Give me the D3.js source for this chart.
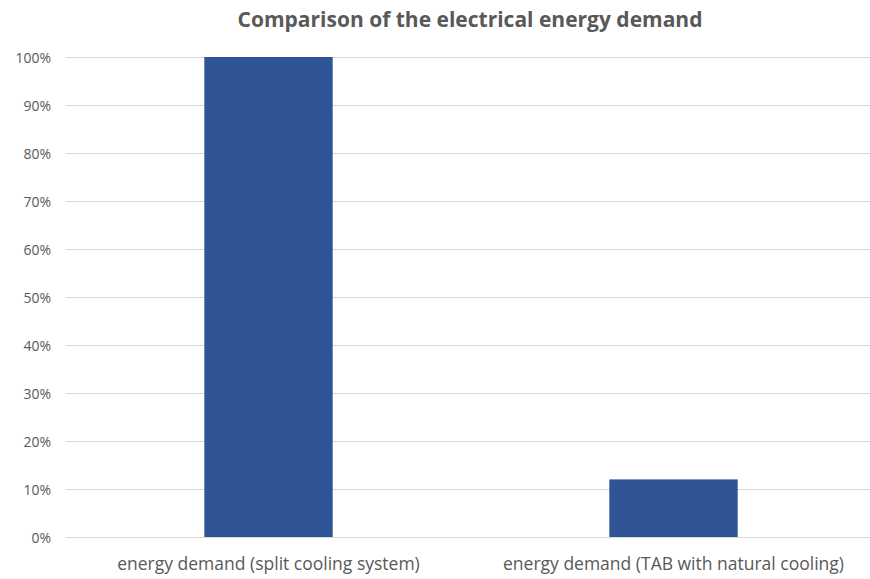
<!DOCTYPE html>
<html>
<head>
<meta charset="utf-8">
<script src="https://cdn.jsdelivr.net/npm/d3@7"></script>
<style>
  html, body { margin: 0; padding: 0; background: #fff; }
  svg { display: block; }
</style>
</head>
<body>
<svg id="chart" width="870" height="579"></svg>
<script>
// Electrical energy demand, relative to the split cooling system
const categories = [
  "energy demand (split cooling system)",
  "energy demand (TAB with natural cooling)"
];
const shares = [1.00, 0.12];
const tickValues = [0, 0.1, 0.2, 0.3, 0.4, 0.5, 0.6, 0.7, 0.8, 0.9, 1.0];
const chartTitle = "Comparison of the electrical energy demand";

const svg = d3.select("#chart");
const W = 870, H = 579;
const margin = { top: 57, right: -6, bottom: 42, left: 66 };

const x = d3.scaleBand()
  .domain(categories)
  .range([margin.left, W - margin.right])
  .paddingInner(0.683)
  .paddingOuter(0.3415);

const y = d3.scaleLinear()
  .domain([0, 1])
  .range([H - margin.bottom, margin.top]);

const textColor = "#595959";
const font = "'Open Sans', 'DejaVu Sans', sans-serif";

// Horizontal gridlines
svg.append("g")
  .selectAll("line")
  .data(tickValues)
  .join("line")
  .attr("x1", margin.left)
  .attr("x2", W)
  .attr("y1", d => Math.round(y(d)) + 0.5)
  .attr("y2", d => Math.round(y(d)) + 0.5)
  .attr("stroke", "#d9d9d9")
  .attr("stroke-width", 1);

// Y axis labels
const yAxis = d3.axisLeft(y)
  .tickValues(tickValues)
  .tickFormat(d3.format(".0%"))
  .tickSize(0)
  .tickPadding(0);

svg.append("g")
  .attr("transform", `translate(${51},1)`)
  .call(yAxis)
  .call(g => g.select(".domain").remove())
  .call(g => g.selectAll("text")
    .attr("fill", textColor)
    .attr("font-family", font)
    .attr("font-size", 14));

// Bars
svg.append("g")
  .selectAll("rect")
  .data(categories.map((c, i) => ({ c, v: shares[i] })))
  .join("rect")
  .attr("x", d => x(d.c))
  .attr("width", x.bandwidth())
  .attr("y", d => y(d.v))
  .attr("height", d => y(0) - y(d.v))
  .attr("fill", "#2f5597");

// Category axis
const xAxis = d3.axisBottom(x).tickSize(0).tickPadding(0);
svg.append("g")
  .attr("transform", `translate(0,${H - margin.bottom})`)
  .call(xAxis)
  .call(g => g.select(".domain").remove())
  .call(g => g.selectAll("text")
    .attr("dy", null)
    .attr("y", 33)
    .attr("fill", textColor)
    .attr("font-family", font)
    .attr("font-size", 17.5));

// Title
svg.append("text")
  .attr("x", 470)
  .attr("y", 27)
  .attr("text-anchor", "middle")
  .attr("fill", textColor)
  .attr("font-family", font)
  .attr("font-weight", "bold")
  .attr("font-size", 21)
  .text(chartTitle);
</script>
</body>
</html>
